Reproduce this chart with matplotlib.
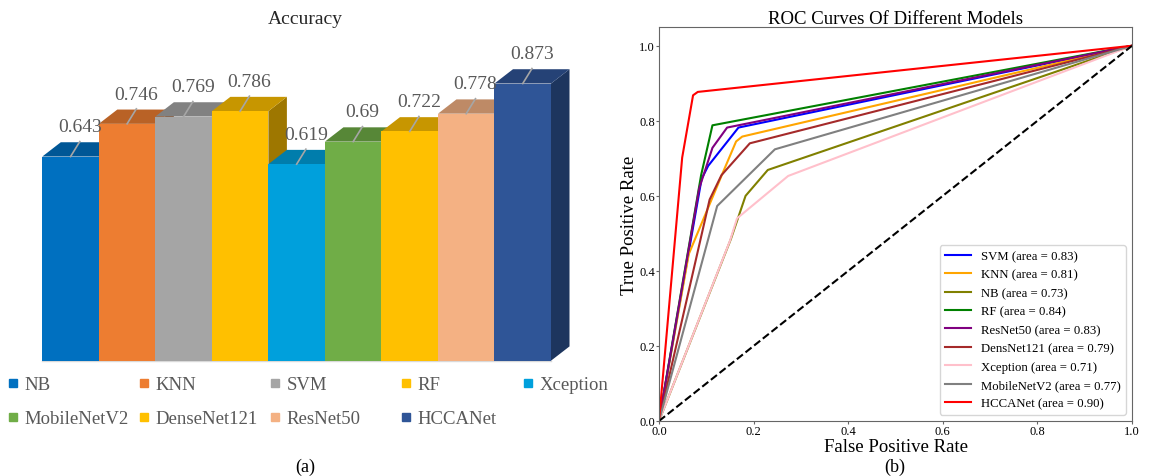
import numpy as np
import matplotlib.pyplot as plt
from matplotlib.patches import Polygon
from matplotlib.lines import Line2D
from matplotlib.colors import to_rgb

plt.rcParams['font.family'] = ['Liberation Serif', 'DejaVu Serif']

# ---- data: accuracy bars ----
models = ['NB', 'KNN', 'SVM', 'RF', 'Xception', 'MobileNetV2',
          'DenseNet121', 'ResNet50', 'HCCANet']
accuracy = [0.643, 0.746, 0.769, 0.786, 0.619, 0.69, 0.722, 0.778, 0.873]
value_labels = ['0.643', '0.746', '0.769', '0.786', '0.619', '0.69',
                '0.722', '0.778', '0.873']
bar_colors = ['#0070C0', '#ED7D31', '#A5A5A5', '#FFC000', '#00A0DC',
              '#70AD47', '#FFC000', '#F4B183', '#2F5597']

# ---- data: ROC curves ----
roc_names = ['SVM', 'KNN', 'NB', 'RF', 'ResNet50', 'DensNet121',
             'Xception', 'MobileNetV2', 'HCCANet']
roc_auc = [0.83, 0.81, 0.73, 0.84, 0.83, 0.79, 0.71, 0.77, 0.90]
roc_colors = ['blue', 'orange', 'olive', 'green', 'purple', 'brown',
              'pink', 'gray', 'red']

fpr_svm = [0, 0.09, 0.104, 0.168, 1]
tpr_svm = [0, 0.645, 0.68, 0.782, 1]
fpr_knn = [0, 0.063, 0.135, 0.163, 0.176, 1]
tpr_knn = [0, 0.445, 0.662, 0.745, 0.758, 1]
fpr_nb = [0, 0.152, 0.183, 0.230, 1]
tpr_nb = [0, 0.485, 0.60, 0.669, 1]
fpr_rf = [0, 0.089, 0.113, 1]
tpr_rf = [0, 0.655, 0.788, 1]
fpr_resnet = [0, 0.085, 0.113, 0.144, 1]
tpr_resnet = [0, 0.62, 0.728, 0.782, 1]
fpr_dense = [0, 0.107, 0.132, 0.192, 1]
tpr_dense = [0, 0.59, 0.655, 0.74, 1]
fpr_xcep = [0, 0.15, 0.165, 0.273, 1]
tpr_xcep = [0, 0.48, 0.54, 0.653, 1]
fpr_mobile = [0, 0.123, 0.245, 1]
tpr_mobile = [0, 0.573, 0.724, 1]
fpr_hcca = [0, 0.049, 0.072, 0.082, 1]
tpr_hcca = [0, 0.702, 0.868, 0.877, 1]

fprs = [fpr_svm, fpr_knn, fpr_nb, fpr_rf, fpr_resnet, fpr_dense,
        fpr_xcep, fpr_mobile, fpr_hcca]
tprs = [tpr_svm, tpr_knn, tpr_nb, tpr_rf, tpr_resnet, tpr_dense,
        tpr_xcep, tpr_mobile, tpr_hcca]


def shade(c, f):
    return tuple(np.array(to_rgb(c)) * f)


W, H = 1152, 477
fig = plt.figure(figsize=(W / 100, H / 100), dpi=100)

# ---------------- (a) 3D-style bar chart ----------------
ax1 = fig.add_axes([42.3 / W, (H - 361.7) / H, 508.7 / W, 321.7 / H])
ax1.set_xlim(-0.5, 8.5)
ax1.set_ylim(0, 321.7 / 317.5)
ax1.axis('off')

dx = 18.5 / 56.5      # depth, in bar widths
dy = 14.3 / 317.5     # depth, in accuracy units
x = np.arange(len(models))

bars = ax1.bar(x, accuracy, width=1.0, color=bar_colors, linewidth=0)
for i, (b, h, c) in enumerate(zip(bars, accuracy, bar_colors)):
    b.set_zorder(3 + i)
    l, r = i - 0.5, i + 0.5
    side = Polygon([(r, 0), (r, h), (r + dx, h + dy), (r + dx, dy)],
                   closed=True, color=shade(c, 0.62), lw=0,
                   zorder=3 + i - 0.4, clip_on=False)
    top = Polygon([(l, h), (l + dx, h + dy), (r + dx, h + dy), (r, h)],
                  closed=True, color=shade(c, 0.78), lw=0,
                  zorder=3 + i - 0.2, clip_on=False)
    ax1.add_patch(side)
    ax1.add_patch(top)
    ax1.plot([i, i + dx / 2], [h, h + 15 / 317.5], color='#A6A6A6',
             lw=1.2, zorder=30, clip_on=False)
    ax1.text(i + dx / 2, h + 0.094, value_labels[i], ha='center',
             va='center', fontsize=14, color='#595959', zorder=31)

ax1.plot([-0.5, 8.5], [0, 0], color='#D9D9D9', lw=1, zorder=2,
         clip_on=False)

fig.text(305 / W, 1 - 20 / H, 'Accuracy', ha='center', va='center',
         fontsize=14, color='#262626')

handles = [Line2D([], [], marker='s', ls='none', markersize=6, color=c)
           for c in bar_colors]
col_x = [6, 137, 268, 399, 521]
for c in range(5):
    idx = [c, c + 5] if c + 5 < len(models) else [c]
    fig.legend([handles[k] for k in idx], [models[k] for k in idx],
               loc='upper left', bbox_to_anchor=(col_x[c] / W, 1 - 377 / H),
               frameon=False, fontsize=13.5, handlelength=0.7,
               handletextpad=0.3, borderpad=0, borderaxespad=0,
               labelspacing=0.9, labelcolor='#595959')

fig.text(305 / W, 1 - 467 / H, '(a)', ha='center', va='center', fontsize=13)

# ---------------- (b) ROC curves ----------------
ax2 = fig.add_axes([659 / W, (H - 422) / H, 473 / W, 394 / H])
for name, a, c, f, t in zip(roc_names, roc_auc, roc_colors, fprs, tprs):
    ax2.plot(f, t, color=c, lw=1.5, label=f'{name} (area = {a:.2f})')
ax2.plot([0, 1], [0, 1], 'k--', lw=1.5)
ax2.set_xlim(0, 1)
ax2.set_ylim(0, 1.05)
ax2.set_xticks([0, 0.2, 0.4, 0.6, 0.8, 1.0])
ax2.set_yticks([0, 0.2, 0.4, 0.6, 0.8, 1.0])
ax2.tick_params(labelsize=9, length=2, pad=0.8, color='#666666')
for s in ax2.spines.values():
    s.set_color('#666666')
ax2.set_title('ROC Curves Of Different Models', fontsize=13.5, pad=0.5)
ax2.set_xlabel('False Positive Rate', fontsize=13.5, labelpad=0.5)
ax2.set_ylabel('True Positive Rate', fontsize=13.5, labelpad=1)
ax2.legend(loc='lower right', fontsize=9.2)

fig.text(895 / W, 1 - 467 / H, '(b)', ha='center', va='center', fontsize=13)

fig.savefig('out.png', dpi=100)
